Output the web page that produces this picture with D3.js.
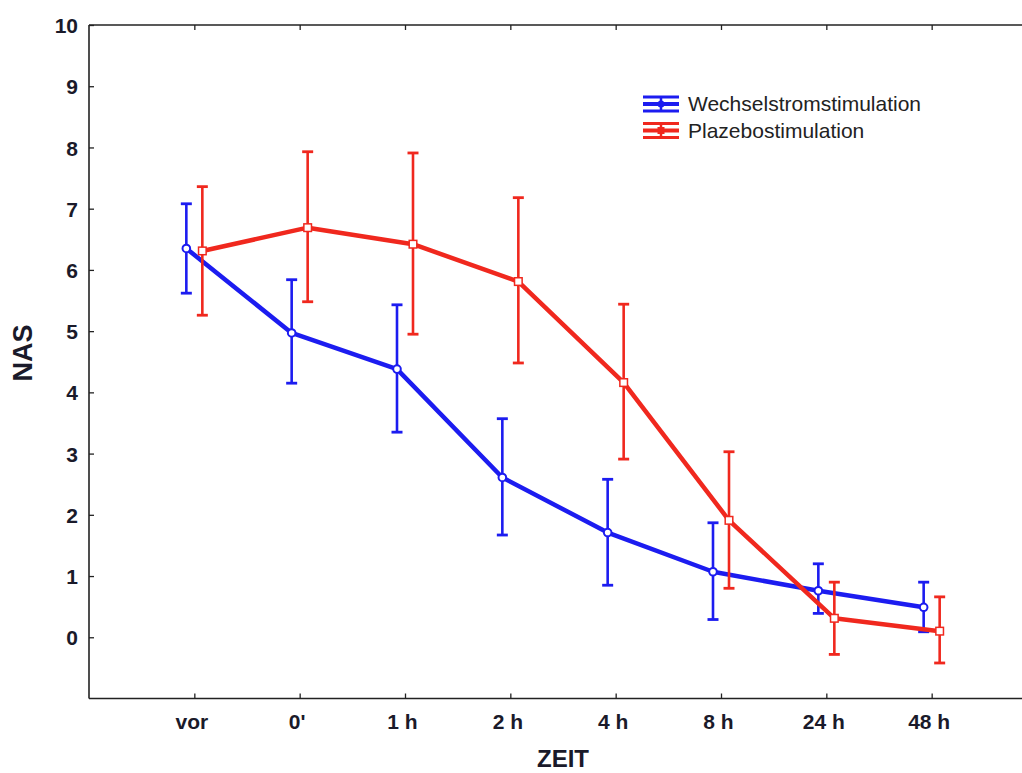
<!DOCTYPE html>
<html><head><meta charset="utf-8">
<script src="https://cdn.jsdelivr.net/npm/d3@7"></script>
<style>body{margin:0;background:#fff;} svg{display:block;font-family:"Liberation Sans",Arial,sans-serif;}</style>
</head><body>
<svg id="chart" width="1022" height="773"></svg>
<script>
const categories = ["vor", "0'", "1 h", "2 h", "4 h", "8 h", "24 h", "48 h"];
const yTicks = [0,1,2,3,4,5,6,7,8,9,10];
const seriesNames = ["Wechselstromstimulation", "Plazebostimulation"];
const blueMean = [6.35, 4.97, 4.38, 2.61, 1.71, 1.07, 0.76, 0.49];
const blueLow  = [5.62, 4.15, 3.35, 1.67, 0.85, 0.29, 0.39, 0.09];
const blueHigh = [7.08, 5.84, 5.43, 3.57, 2.58, 1.87, 1.20, 0.90];
const redMean  = [6.31, 6.69, 6.42, 5.81, 4.16, 1.91, 0.31, 0.10];
const redLow   = [5.26, 5.48, 4.95, 4.48, 2.91, 0.80, -0.28, -0.42];
const redHigh  = [7.36, 7.93, 7.91, 7.18, 5.44, 3.03, 0.90, 0.66];

const svg = d3.select("#chart");
const pLeft = 89, pRight = 1037, pTop = 25, pBottom = 698.5;
const x = d3.scalePoint().domain(categories).range([pLeft, pRight]).padding(1);
const y = d3.scaleLinear().domain([-1, 10]).range([pBottom, pTop]);
const axisColor = "#222";

const series = [
  {name: seriesNames[0], mean: blueMean, low: blueLow, high: blueHigh, color: "#1c1cf0", dx: -8, marker: "circle"},
  {name: seriesNames[1], mean: redMean, low: redLow, high: redHigh, color: "#f0281e", dx: 8, marker: "square"}
];

// axes
const gx = svg.append("g").attr("transform", `translate(0,${pBottom})`)
  .call(d3.axisBottom(x).tickSizeInner(-5).tickSizeOuter(0).tickPadding(16));
const gxTop = svg.append("g").attr("transform", `translate(0,${pTop})`)
  .call(d3.axisTop(x).tickSizeInner(-5).tickSizeOuter(0).tickFormat(""));
const gy = svg.append("g").attr("transform", `translate(${pLeft},0)`)
  .call(d3.axisLeft(y).tickValues(yTicks).tickSizeInner(-5).tickSizeOuter(0).tickPadding(11));
[gx, gxTop, gy].forEach(g => {
  g.select(".domain").attr("stroke", axisColor).attr("stroke-width", 1.6);
  g.selectAll(".tick line").attr("stroke", axisColor).attr("stroke-width", 1.3);
  g.selectAll(".tick text").attr("fill", "#1a1a2a").attr("font-size", 21).attr("font-weight", "bold")
    .attr("font-family", "'Liberation Sans',Arial,sans-serif");
});
gy.select(".domain").attr("d", `M0,${pBottom}V${pTop}`);
gx.select(".domain").attr("d", `M${pLeft},0H${pRight}`);
gxTop.select(".domain").attr("d", `M${pLeft},0H${pRight}`);
gy.selectAll(".tick text").attr("dy", "0.36em");
gx.selectAll(".tick text").attr("dx", -3);

// axis titles
svg.append("text").attr("x", 563).attr("y", 767).attr("text-anchor", "middle")
  .attr("font-size", 24).attr("font-weight", "bold").attr("fill", "#1a1a2a").text("ZEIT");
svg.append("text").attr("transform", "translate(32,353) rotate(-90)").attr("text-anchor", "middle")
  .attr("font-size", 27).attr("font-weight", "bold").attr("fill", "#1a1a2a").text("NAS");

// series
series.forEach(s => {
  const g = svg.append("g");
  const px = (d, i) => x(categories[i]) + s.dx;
  categories.forEach((c, i) => {
    const cx = x(c) + s.dx;
    g.append("line").attr("x1", cx).attr("x2", cx).attr("y1", y(s.low[i])).attr("y2", y(s.high[i]))
      .attr("stroke", s.color).attr("stroke-width", 2.6);
    [s.low[i], s.high[i]].forEach(v => {
      g.append("line").attr("x1", cx - 5.5).attr("x2", cx + 5.5).attr("y1", y(v)).attr("y2", y(v))
        .attr("stroke", s.color).attr("stroke-width", 2.8);
    });
  });
  g.append("path").datum(s.mean)
    .attr("d", d3.line().x((d, i) => px(d, i)).y(d => y(d)))
    .attr("fill", "none").attr("stroke", s.color).attr("stroke-width", 4.5).attr("stroke-linejoin", "round");
  s.mean.forEach((v, i) => {
    const cx = px(v, i), cy = y(v);
    if (s.marker === "circle") {
      g.append("circle").attr("cx", cx).attr("cy", cy).attr("r", 3.8)
        .attr("fill", "#fff").attr("stroke", s.color).attr("stroke-width", 2);
    } else {
      g.append("rect").attr("x", cx - 3.8).attr("y", cy - 3.8).attr("width", 7.6).attr("height", 7.6)
        .attr("fill", "#fff").attr("stroke", s.color).attr("stroke-width", 1.5);
    }
  });
});

// legend
const legend = svg.append("g");
series.forEach((s, i) => {
  const cy = 104 + i * 26.5;
  const lx0 = 643, lx1 = 679, lc = (lx0 + lx1) / 2;
  const lg = legend.append("g");
  lg.append("line").attr("x1", lc).attr("x2", lc).attr("y1", cy - 7).attr("y2", cy + 7)
    .attr("stroke", s.color).attr("stroke-width", 2.5);
  [cy - 7, cy + 7].forEach(yy => lg.append("line").attr("x1", lx0).attr("x2", lx1)
    .attr("y1", yy).attr("y2", yy).attr("stroke", s.color).attr("stroke-width", 2.8));
  lg.append("line").attr("x1", lx0).attr("x2", lx1).attr("y1", cy).attr("y2", cy)
    .attr("stroke", s.color).attr("stroke-width", 4);
  if (s.marker === "circle") {
    lg.append("circle").attr("cx", lc).attr("cy", cy).attr("r", 3.5).attr("fill", s.color);
  } else {
    lg.append("rect").attr("x", lc - 3.5).attr("y", cy - 3.5).attr("width", 7).attr("height", 7).attr("fill", s.color);
  }
  lg.append("text").attr("x", 688).attr("y", cy + 7).attr("font-size", 21).attr("fill", "#222")
    .text(s.name);
});
</script>
</body></html>
